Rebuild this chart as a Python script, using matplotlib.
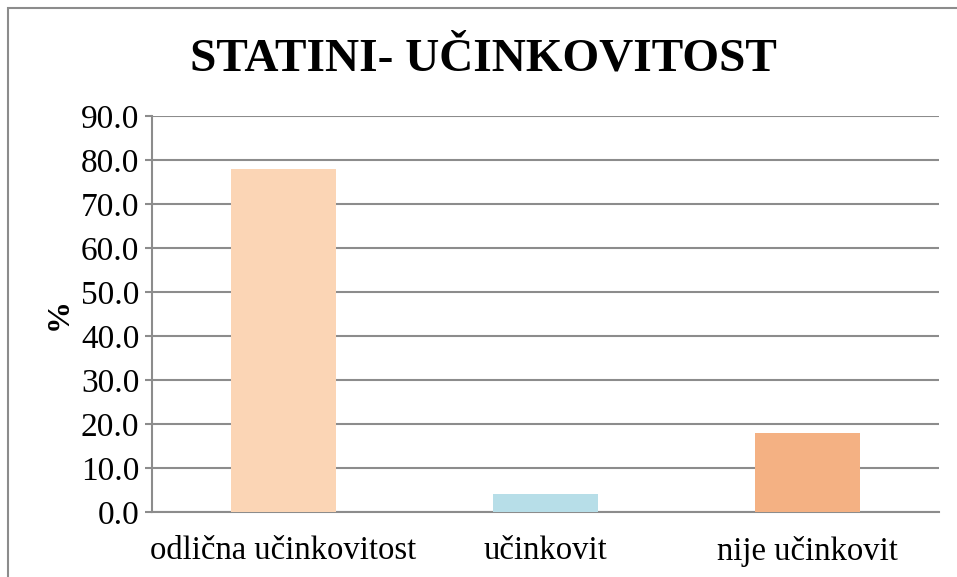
import matplotlib
matplotlib.use('Agg')
import matplotlib.pyplot as plt
from matplotlib.patches import Rectangle

# data
categories = ['odlična učinkovitost', 'učinkovit', 'nije učinkovit']
values = [78.0, 4.0, 18.0]
colors = ['#FBD5B5', '#B7DEE8', '#F4B183']

plt.rcParams['font.family'] = ['Liberation Serif', 'DejaVu Serif']

fig = plt.figure(figsize=(9.57, 5.77), dpi=100)
ax = fig.add_axes([0.1588, 0.1127, 0.822, 0.6863])

x = range(len(categories))
ax.bar(x, values, width=0.4, color=colors, zorder=3)

ax.set_xlim(-0.5, 2.5)
ax.set_ylim(0, 90)
ax.set_yticks(range(0, 91, 10))
ax.set_yticklabels([f'{v:.1f}' for v in range(0, 91, 10)], fontsize=24)
ax.set_xticks(list(x))
ax.set_xticklabels(categories, fontsize=23.5)
ax.tick_params(axis='x', length=0, pad=17)
ax.tick_params(axis='y', length=5, width=1.5, color='#8c8c8c', pad=4)

ax.grid(axis='y', color='#8c8c8c', linewidth=1.5, zorder=0)
for s in ['top', 'right']:
    ax.spines[s].set_visible(False)
ax.spines['left'].set_color('#8c8c8c')
ax.spines['left'].set_linewidth(1.5)
ax.spines['bottom'].set_color('#8c8c8c')
ax.spines['bottom'].set_linewidth(1.5)

ax.set_ylabel('%', fontsize=23, fontweight='bold', labelpad=5)

fig.text(0.505, 0.897, 'STATINI- UČINKOVITOST', ha='center', va='center',
         fontsize=34, fontweight='bold')

# outer chart frame (cut off at right and bottom)
fig.patches.append(Rectangle((8 / 957, -0.1), 1.2, 1 - 8 / 577 + 0.1,
                             transform=fig.transFigure, fill=False,
                             edgecolor='#8c8c8c', linewidth=1.5))

fig.savefig('out.png', dpi=100)
